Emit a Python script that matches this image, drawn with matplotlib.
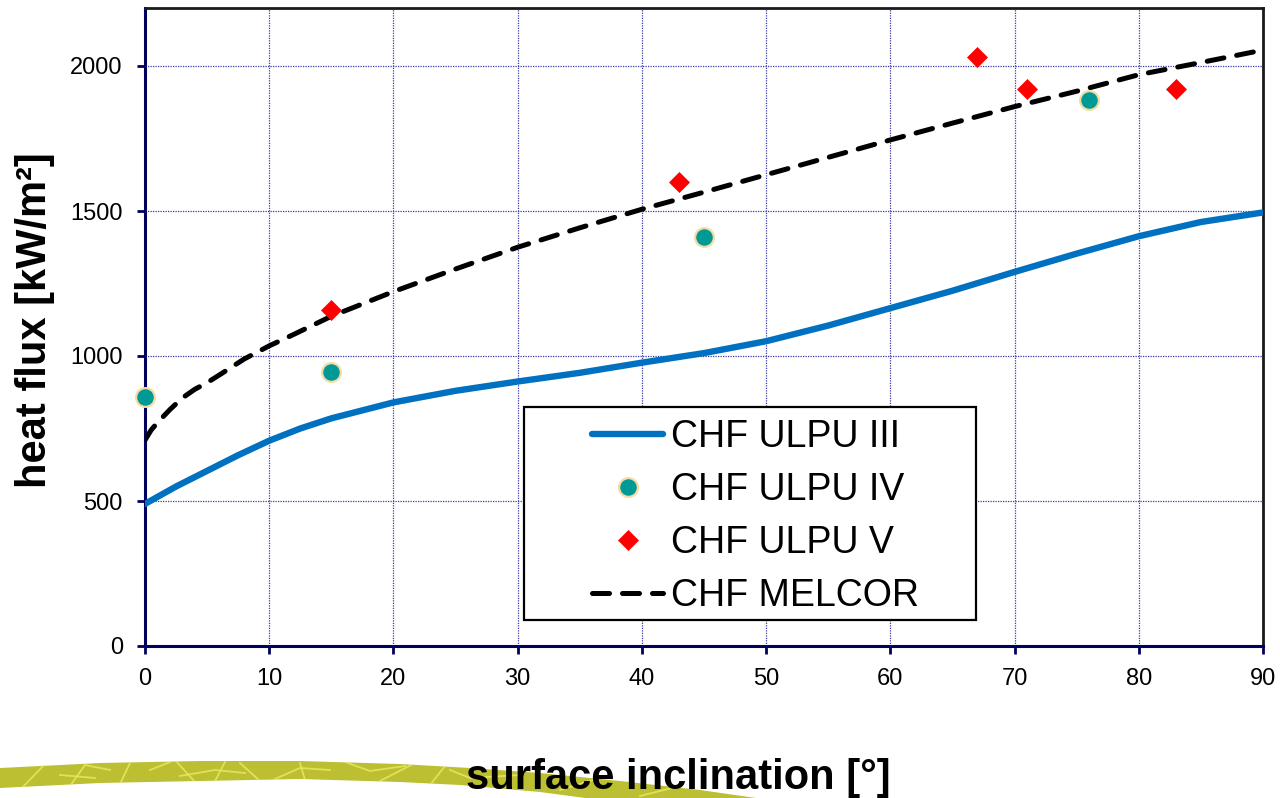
import matplotlib
matplotlib.use("Agg")
import matplotlib.pyplot as plt
from matplotlib.patches import Polygon, Rectangle
from matplotlib.lines import Line2D

plt.rcParams['font.family'] = ['Liberation Sans', 'DejaVu Sans']

# ---- data -------------------------------------------------------------
angle_ulpu3 = [0, 2.5, 5, 7.5, 10, 12.5, 15, 20, 25, 30, 35, 40, 45, 50, 55,
               60, 65, 70, 75, 80, 85, 90]
chf_ulpu3 = [490, 550, 604, 658, 708, 750, 785, 840, 880, 912, 942, 977, 1010,
             1051, 1105, 1165, 1225, 1290, 1353, 1413, 1462, 1495]

angle_ulpu4 = [0, 15, 45, 76]
chf_ulpu4 = [857, 944, 1410, 1882]

angle_ulpu5 = [15, 43, 67, 71, 83]
chf_ulpu5 = [1157, 1599, 2030, 1920, 1920]

angle_melcor = [0, 0.5, 1, 2, 3, 4, 5, 6, 8, 10, 12, 15, 20, 25, 30, 35,
                40, 45, 50, 55, 60, 65, 70, 75, 80, 85, 90]
chf_melcor = [710, 745, 770, 815, 855, 885, 908, 935, 990, 1035, 1075, 1137,
              1222, 1300, 1375, 1442, 1506, 1565, 1625, 1685, 1745, 1803,
              1860, 1913, 1970, 2012, 2055]

x_ticks = list(range(0, 91, 10))
y_ticks = [0, 500, 1000, 1500, 2000]

# ---- figure -----------------------------------------------------------
W, H = 1280, 798
fig = plt.figure(figsize=(W / 100, H / 100), dpi=100)
fig.patch.set_facecolor('white')

# decorative leaf band behind the x-axis title (pixel coordinates)
bg = fig.add_axes([0, 0, 1, 1], zorder=-5)
bg.set_xlim(0, W)
bg.set_ylim(H, 0)
bg.axis('off')
band_top = [(0, 768), (100, 763), (200, 761), (300, 761), (400, 764),
            (470, 768), (540, 773), (620, 781), (700, 790), (770, 800)]
band_bot = [(600, 800), (540, 792), (460, 785), (400, 782), (300, 779),
            (200, 781), (100, 783), (0, 788)]
band = Polygon(band_top + band_bot, closed=True, facecolor='#bcbf32',
               edgecolor='none')
bg.add_patch(band)
veins = [
    [(20, 790), (45, 764)], [(70, 786), (85, 765), (110, 770)],
    [(120, 784), (130, 763)], [(150, 770), (175, 760), (195, 782)],
    [(215, 781), (225, 762)], [(240, 763), (260, 781)],
    [(275, 779), (300, 768), (330, 770)], [(300, 763), (305, 780)],
    [(345, 762), (370, 771), (405, 766)], [(380, 781), (415, 763)],
    [(430, 785), (445, 766)], [(450, 770), (470, 778), (520, 775)],
    [(560, 790), (600, 778)], [(640, 796), (680, 786)],
    [(180, 776), (215, 770), (245, 773)], [(60, 775), (95, 778)],
]
for v in veins:
    xs, ys = zip(*v)
    ln = Line2D(xs, ys, color='#e6e860', lw=1.3, alpha=0.85)
    ln.set_clip_path(band)
    bg.add_line(ln)

# ---- main axes --------------------------------------------------------
ax = fig.add_axes([145 / W, 1 - 646 / H, 1118 / W, 638 / H])
ax.set_xlim(0, 90)
ax.set_ylim(0, 2200)
ax.set_xticks(x_ticks)
ax.set_yticks(y_ticks)
ax.grid(True, color='#3a3aa8', linestyle=(0, (1, 1)), linewidth=0.9)
ax.set_axisbelow(True)

navy = '#00005e'
ax.spines['left'].set_color(navy)
ax.spines['bottom'].set_color(navy)
ax.spines['left'].set_linewidth(2.2)
ax.spines['bottom'].set_linewidth(2.2)
ax.spines['top'].set_color('#1a1a1a')
ax.spines['right'].set_color('#1a1a1a')
ax.spines['top'].set_linewidth(2.0)
ax.spines['right'].set_linewidth(2.0)
ax.tick_params(axis='both', direction='out', length=6, width=2,
               color=navy, labelsize=17)
ax.tick_params(axis='y', pad=10)
ax.tick_params(axis='x', pad=10)

ln3, = ax.plot(angle_ulpu3, chf_ulpu3, color='#0070c0', lw=4.6,
               solid_capstyle='round', solid_joinstyle='round', zorder=3,
               label='CHF ULPU III')
p4, = ax.plot(angle_ulpu4, chf_ulpu4, linestyle='none', marker='o',
              markersize=13.5, markerfacecolor='#009a96',
              markeredgecolor='#f6dca2', markeredgewidth=1.6, zorder=5,
              clip_on=False, label='CHF ULPU IV')
p5, = ax.plot(angle_ulpu5, chf_ulpu5, linestyle='none', marker='D',
              markersize=10.5, markerfacecolor='#ff0000',
              markeredgecolor='#ff0000', markeredgewidth=0.5, zorder=5,
              label='CHF ULPU V')
lnm, = ax.plot(angle_melcor, chf_melcor, color='black', lw=3.6,
               linestyle=(0, (3.4, 2.6)), dash_capstyle='round', zorder=4,
               label='CHF MELCOR')

# legend frame and entries
frame = Rectangle((0.339, 0.041), 0.404, 0.3336, transform=ax.transAxes,
                  facecolor='white', edgecolor='black', linewidth=1.6,
                  zorder=6)
ax.add_patch(frame)
leg = ax.legend(handles=[ln3, p4, p5, lnm], loc='center left',
                bbox_to_anchor=(0.400, 0.203), frameon=False,
                fontsize=27, handlelength=1.9, handletextpad=0.2,
                borderpad=0, labelspacing=0.45, borderaxespad=0)
leg.set_zorder(7)

# axis titles
fig.text(35 / W, 1 - 320 / H, 'heat flux [kW/m²]', rotation=90,
         ha='center', va='center', fontsize=30, fontweight='bold')
fig.text(678 / W, 1 - 778 / H, 'surface inclination [°]', ha='center',
         va='center', fontsize=30, fontweight='bold')

fig.savefig('out.png', dpi=100)
